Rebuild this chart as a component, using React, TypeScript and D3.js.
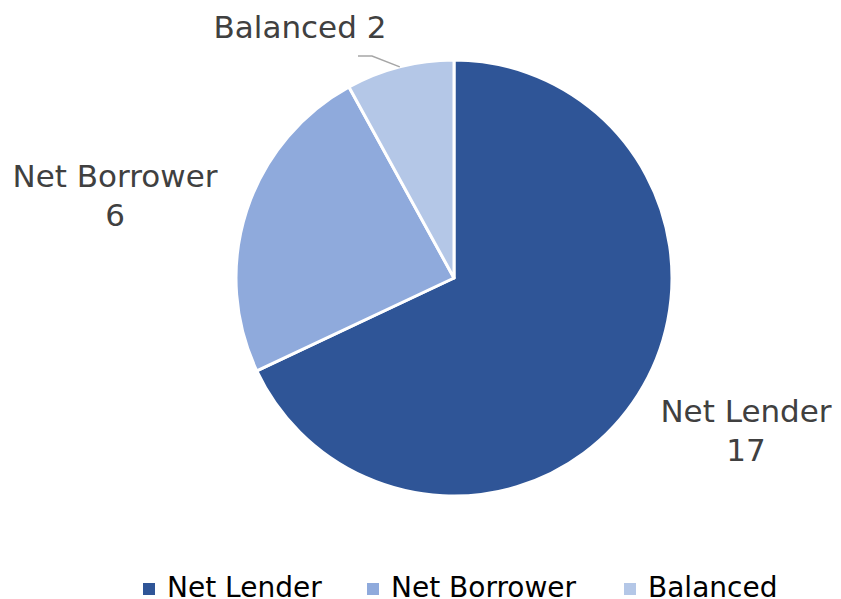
import * as d3 from "d3";

const categories = ["Net Lender", "Net Borrower", "Balanced"];
const values = [17, 6, 2];
const colors = ["#2F5597", "#8FAADC", "#B4C7E7"];

// label placement (text centre / baseline of first line), tuned by eye
const labelLayout = [
  { x: 746, y: 422, lines: 2 },
  { x: 115, y: 187, lines: 2 },
  { x: 300, y: 38, lines: 1 },
];

const W = 841;
const H = 599;
const cx = 454;
const cy = 278;
const radius = 218;
const font = "'DejaVu Sans', Verdana, sans-serif";

export default function App() {
  const pie = d3
    .pie<number>()
    .sort(null)
    .value((d) => d);
  const arcs = pie(values);
  const arc = d3.arc<d3.PieArcDatum<number>>().innerRadius(0).outerRadius(radius);

  // leader line for the small slice, from the middle of its arc to the label
  const bal = arcs[2];
  const mid = (bal.startAngle + bal.endAngle) / 2;
  const p0: [number, number] = [Math.sin(mid) * radius, -Math.cos(mid) * radius];

  const legendX = [143, 367, 624];

  return (
    <svg width={W} height={H} style={{ position: "absolute", left: 0, top: 0, background: "#fff" }}>
      <g transform={`translate(${cx},${cy})`}>
        {arcs.map((a, i) => (
          <path key={i} d={arc(a) || ""} fill={colors[i]} stroke="#fff" strokeWidth={3} strokeLinejoin="round" />
        ))}
        <polyline
          points={`${p0[0]},${p0[1]} ${372 - cx},${56 - cy} ${358 - cx},${56 - cy}`}
          fill="none"
          stroke="#A6A6A6"
          strokeWidth={1.5}
        />
      </g>
      {labelLayout.map((l, i) =>
        l.lines === 2 ? (
          <text key={i} x={l.x} y={l.y} textAnchor="middle" fontFamily={font} fontSize={31} fill="#404040">
            <tspan x={l.x}>{categories[i]}</tspan>
            <tspan x={l.x} dy={39}>{values[i]}</tspan>
          </text>
        ) : (
          <text key={i} x={l.x} y={l.y} textAnchor="middle" fontFamily={font} fontSize={31} fill="#404040">
            {`${categories[i]} ${values[i]}`}
          </text>
        )
      )}
      {categories.map((c, i) => (
        <g key={c}>
          <rect x={legendX[i]} y={583} width={12} height={12} fill={colors[i]} />
          <text x={legendX[i] + 24} y={597} fontFamily={font} fontSize={28} fill="#000">
            {c}
          </text>
        </g>
      ))}
    </svg>
  );
}
